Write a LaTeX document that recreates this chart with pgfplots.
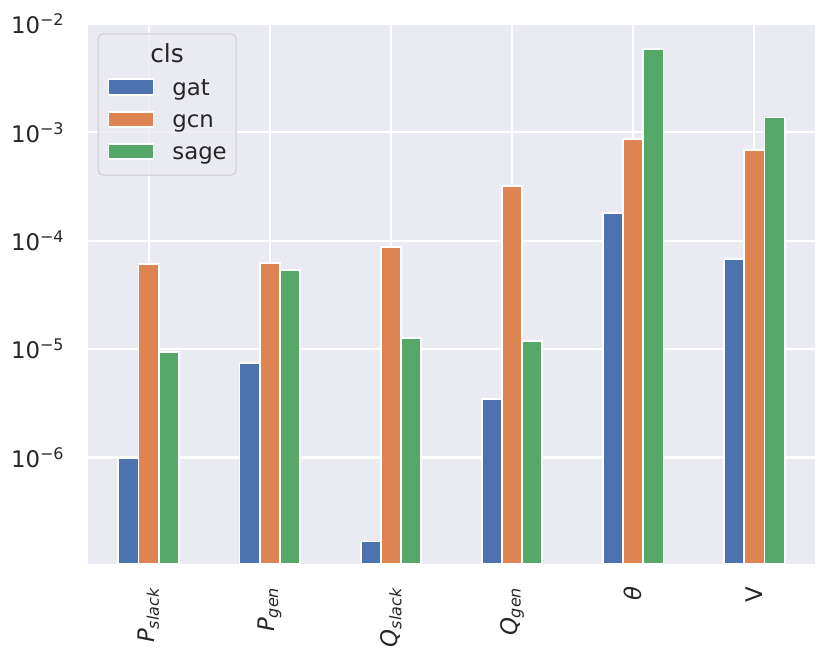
\documentclass[border=0pt]{standalone}
\usepackage{pgfplots}
\pgfplotsset{compat=1.18}
\usepackage{fontspec}
\setmainfont{DejaVu Sans}
\definecolor{bg}{HTML}{EAEAF2}
\definecolor{c1}{HTML}{4C72B0}
\definecolor{c2}{HTML}{DD8452}
\definecolor{c3}{HTML}{55A868}
\definecolor{txt}{HTML}{262626}
\definecolor{legedge}{HTML}{CCCCCC}
\newcommand\sub[1]{\textsubscript{\fontsize{7.7}{9}\selectfont\textit{#1}}}
\begin{document}
\fontsize{11}{13}\selectfont
\begin{tikzpicture}
\begin{axis}[
  name=ax,
  scale only axis,
  width=349bp, height=259.3bp,
  ymode=log, log origin y=infty,
  xmin=-0.5, xmax=5.5, ymin=1.04e-7, ymax=1e-2,
  enlargelimits=false,
  axis background/.style={fill=bg},
  axis line style={draw=none},
  tick style={draw=none},
  grid=major,
  major grid style={white, line width=1bp},
  xtick={0,1,2,3,4,5},
  xticklabels={{\textit{P}\sub{slack}},{\textit{P}\sub{gen}},{\textit{Q}\sub{slack}},{\textit{Q}\sub{gen}},{\textit{θ}},{V}},
  ytick={1e-6,1e-5,1e-4,1e-3,1e-2},
  yticklabels={{10\textsuperscript{−6}},{10\textsuperscript{−5}},{10\textsuperscript{−4}},{10\textsuperscript{−3}},{10\textsuperscript{−2}}},
  ticklabel style={font=\fontsize{11}{13}\selectfont, text=txt},
  xticklabel style={rotate=90, anchor=east, inner sep=0pt},
  yticklabel style={inner sep=0pt},
  xticklabel shift=6.5bp, yticklabel shift=11bp,
  ybar, bar width=0.16667,
  legend cell align=left,
  legend style={at={(0,1)}, anchor=north west, xshift=4.66bp, yshift=-4.5bp,
    fill=bg, fill opacity=0.8, draw opacity=1, text opacity=1, draw=legedge,
    line width=0.5bp, rounded corners=2.4bp,
    font=\fontsize{11}{13}\selectfont, text=txt,
    inner xsep=4.5bp, inner ysep=4.4bp, row sep=3bp, column sep=8.6bp,
    nodes={inner sep=0pt, text height=9.5bp, text depth=3bp, text opacity=1}},
  legend image code/.code={\draw[#1, sharp corners, draw=white, line width=0.9bp, fill opacity=1, draw opacity=1] (0bp,-3bp) rectangle (21.6bp,4.3bp);},
]
\addlegendimage{empty legend}
\addlegendentry{\hspace*{-10.6bp}\fontsize{12}{14}\selectfont cls}
\addplot[fill=c1, draw=white, line width=0.9bp, bar shift=-0.16667] coordinates {
  (0,0.99e-6) (1,7.5e-6) (2,1.68e-7) (3,3.5e-6) (4,1.8e-4) (5,6.8e-5)};
\addlegendentry{gat}
\addplot[fill=c2, draw=white, line width=0.9bp, bar shift=0] coordinates {
  (0,6.1e-5) (1,6.2e-5) (2,8.7e-5) (3,3.2e-4) (4,8.7e-4) (5,6.9e-4)};
\addlegendentry{gcn}
\addplot[fill=c3, draw=white, line width=0.9bp, bar shift=0.16667] coordinates {
  (0,9.4e-6) (1,5.35e-5) (2,1.26e-5) (3,1.2e-5) (4,5.9e-3) (5,1.37e-3)};
\addlegendentry{sage}
\end{axis}
\pgfresetboundingbox
\path[use as bounding box] ([xshift=-42.24bp, yshift=-45.5bp]ax.south west) rectangle ([xshift=7.7bp, yshift=11.5bp]ax.north east);
\end{tikzpicture}
\end{document}
